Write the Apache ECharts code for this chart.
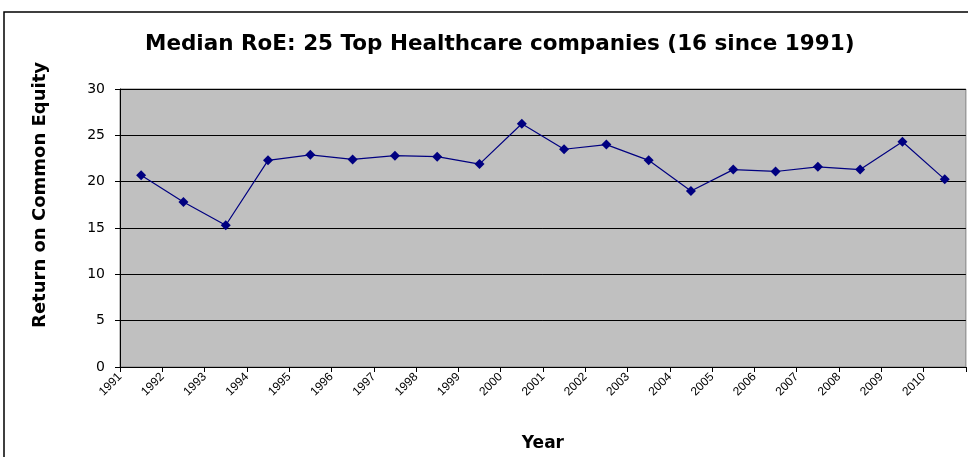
<!DOCTYPE html>
<html><head><meta charset="utf-8">
<script src="https://cdn.jsdelivr.net/npm/echarts@6/dist/echarts.min.js"></script>
<style>html,body{margin:0;padding:0;background:#fff}#c{width:968px;height:457px}</style>
</head><body><div id="c"></div>
<script>
const years = ['1991','1992','1993','1994','1995','1996','1997','1998','1999','2000','2001','2002','2003','2004','2005','2006','2007','2008','2009','2010'];
const roe = [20.7,17.8,15.3,22.3,22.9,22.4,22.8,22.7,21.9,26.25,23.5,24.0,22.3,19.0,21.3,21.1,21.6,21.3,24.3,20.25];
const tickLabels = years.concat(['']);
const FONT = '"Liberation Sans", Arial, sans-serif';
const WIDE = '"DejaVu Sans", sans-serif';

const chart = echarts.init(document.getElementById('c'), null, {renderer:'canvas'});
chart.setOption({
  animation:false,
  backgroundColor:'#ffffff',
  title:{text:'Median RoE: 25 Top Healthcare companies (16 since 1991)', left:140, top:28,
    textStyle:{fontFamily:WIDE, fontWeight:'bold', fontSize:21.5, color:'#000'}},
  grid:{left:120, right:2, top:89, bottom:88, show:true, backgroundColor:'#c0c0c0', borderColor:'#808080', borderWidth:1},
  xAxis:[{
    type:'category', data:years, boundaryGap:true,
    axisLine:{show:true, lineStyle:{color:'#000', width:1}},
    axisTick:{show:true, length:5, lineStyle:{color:'#000'}},
    axisLabel:{show:false},
    name:'Year', nameLocation:'middle', nameGap:68,
    nameTextStyle:{fontFamily:WIDE, fontWeight:'bold', fontSize:17, color:'#000'}
  },{
    type:'category', data:tickLabels, boundaryGap:false, position:'bottom',
    axisLine:{show:false}, axisTick:{show:false},
    axisLabel:{interval:0, rotate:45, margin:8, fontFamily:FONT, fontSize:12, color:'#000'}
  }],
  yAxis:{type:'value', min:0, max:30, interval:5,
    axisLine:{show:true, lineStyle:{color:'#000'}},
    axisTick:{show:true, length:5, lineStyle:{color:'#000'}},
    axisLabel:{fontFamily:WIDE, fontSize:14, color:'#000', margin:15},
    splitLine:{show:true, lineStyle:{color:'#000', width:1}}
  },
  series:[{type:'line', data:roe, xAxisIndex:0, symbol:'diamond', symbolSize:10,
    lineStyle:{color:'#000080', width:1.2}, itemStyle:{color:'#000080'}}],
  graphic:[
    {type:'rect', shape:{x:4, y:12, width:990, height:480}, style:{fill:'none', stroke:'#000', lineWidth:1.5}, silent:true},
    {type:'text', x:40, y:195, rotation:Math.PI/2, style:{text:'Return on Common Equity', fontFamily:WIDE, fontWeight:'bold', fontSize:18, fill:'#000', textAlign:'center', textVerticalAlign:'middle'}}
  ]
});
</script></body></html>
